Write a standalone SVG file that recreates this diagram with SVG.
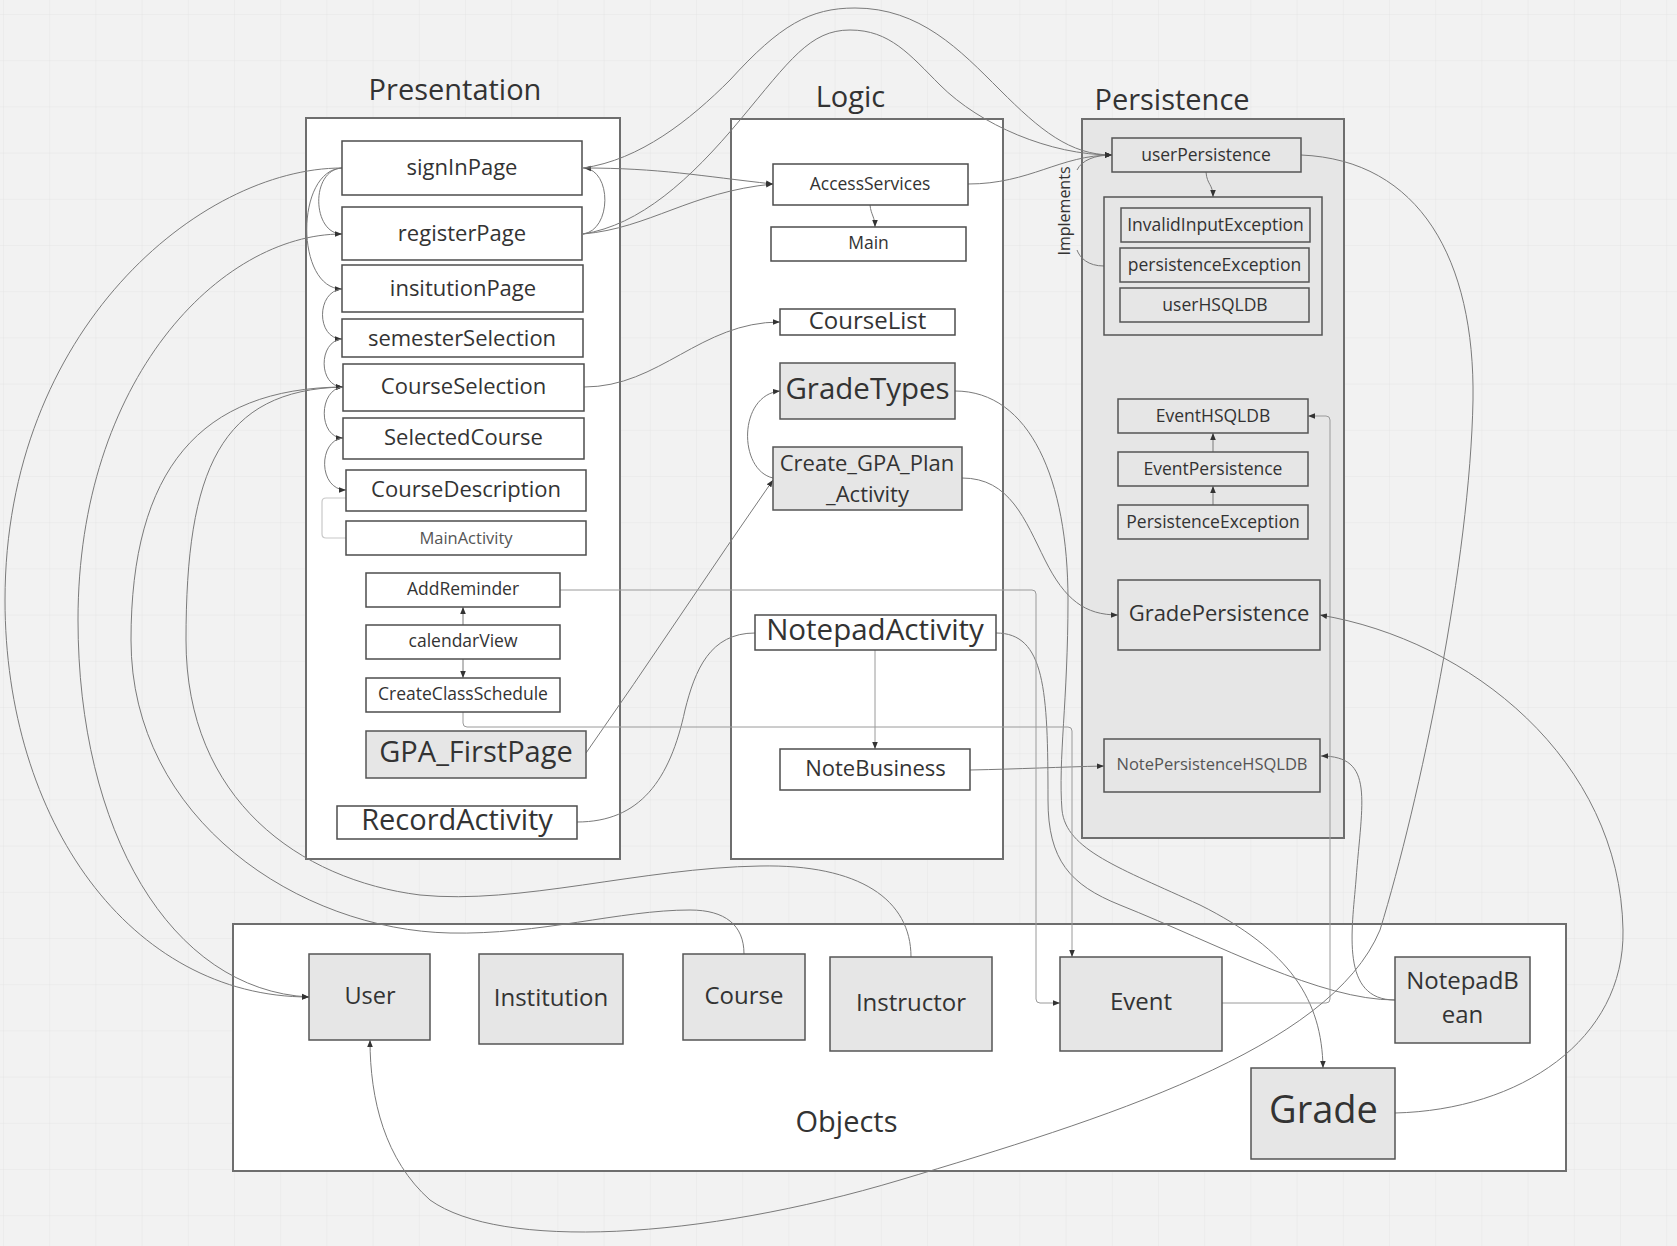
<svg xmlns="http://www.w3.org/2000/svg" width="1677" height="1246" viewBox="0 0 1677 1246">
<defs>
<pattern id="grid" x="3" y="14" width="46.2" height="46.2" patternUnits="userSpaceOnUse">
<path d="M46.2 0 L0 0 0 46.2" fill="none" stroke="#e5e5e5" stroke-width="1"/>
</pattern>
<marker id="ah" viewBox="0 0 10 10" refX="10" refY="5" markerWidth="7" markerHeight="7" markerUnits="userSpaceOnUse" orient="auto">
<path d="M0,1 L10,5 L0,9 z" fill="#333"/>
</marker>
<style>
.t{font-family:"Open Sans","Liberation Sans",sans-serif;fill:#333;text-anchor:middle}
.box{fill:#fff;stroke:#4d4d4d;stroke-width:1.5}
.gbox{fill:#e6e6e6;stroke:#555;stroke-width:1.5}
.cont{fill:#fff;stroke:#6e6e6e;stroke-width:2}
.gcont{fill:#e6e6e6;stroke:#6e6e6e;stroke-width:2}
.c{fill:none;stroke:#7a7a7a;stroke-width:1}
.a{marker-end:url(#ah)}
.lt{fill:none;stroke:#c8c8c8;stroke-width:1.2}
.lg{fill:none;stroke:#9a9a9a;stroke-width:1}
</style>
</defs>
<rect x="0" y="0" width="1677" height="1246" fill="#f2f2f2"/>
<rect x="0" y="0" width="1677" height="1246" fill="url(#grid)"/>

<g id="presentation">
<rect class="cont" x="306" y="118" width="314" height="741"/>
<text class="t" x="455" y="100" font-size="29">Presentation</text>
</g>
<g id="logic">
<rect class="cont" x="731" y="119" width="272" height="740"/>
<text class="t" x="850.5" y="106.5" font-size="29">Logic</text>
</g>
<g id="persistence">
<rect class="gcont" x="1082" y="119" width="262" height="719"/>
<text class="t" x="1172" y="110" font-size="29">Persistence</text>
</g>
<g id="objects">
<rect class="cont" x="233" y="924" width="1333" height="247"/>
<text class="t" x="846.5" y="1131.5" font-size="29">Objects</text>
</g>

<g id="connectors">
<path class="c a" d="M342,168 C200,168 5,330 5,600 C5,820 130,997 309,997"/>
<path class="c a" d="M342,234 C220,234 78,380 78,620 C78,830 170,990 309,997"/>
<path class="c a" d="M744,954 C744,925 725,910 690,910 C620,910 540,935 450,933 C300,930 131,820 131,640 C131,470 200,388 343,387"/>
<path class="c a" d="M911,957 C911,900 860,864 760,866 C640,868 520,905 420,895 C300,880 186,800 186,640 C186,470 220,390 343,387"/>
<path class="c a" d="M342,168 C310,170 312,234 342,234"/>
<path class="c a" d="M342,168 C295,170 295,289 342,289"/>
<path class="c a" d="M342,289 C316,291 316,339 342,339"/>
<path class="c a" d="M342,339 C318,341 318,387 343,387"/>
<path class="c a" d="M343,387 C318,389 318,438 343,438"/>
<path class="c a" d="M343,438 C318,440 318,490 346,490"/>
<path class="lt" d="M346,538 H326 Q322,538 322,534 V502 Q322,498 326,498 H346"/>
<path class="c a" d="M583,234 C612,230 612,170 584,168"/>
<path class="c a" d="M583,168 C660,168 700,176 773,184"/>
<path class="c a" d="M583,234 C650,228 690,192 773,184"/>
<path class="c a" d="M583,168 C640,160 690,120 730,80 C780,25 810,8 855,8 C920,8 960,50 1000,90 C1040,130 1070,155 1112,155"/>
<path class="c a" d="M583,234 C640,225 690,180 740,120 C790,60 810,30 850,30 C890,30 910,55 940,85 C980,125 1050,155 1112,155"/>
<path class="c a" d="M968,184 C1030,184 1060,155 1112,155"/>
<path class="c" d="M1104,266 C1088,266 1080,258 1077,250"/>
<path class="c a" d="M1077,170 C1082,160 1095,155 1112,155"/>
<path class="c a" d="M1206,172 C1207,185 1213,184 1213,197"/>
<path class="c a" d="M870,205 C871,215 875,217 875,227"/>
<path class="c a" d="M584,387 C660,387 700,322 780,322"/>
<path class="c a" d="M586,753 C650,662 710,570 773,480"/>
<path class="c a" d="M773,478 C738,470 738,395 780,391"/>
<path class="c a" d="M955,391 C1030,391 1068,480 1068,600 C1068,700 1058,760 1062,810 C1066,850 1120,868 1200,905 C1290,950 1322,1000 1323,1068"/>
<path class="c a" d="M962,478 C1010,478 1025,520 1045,560 C1065,600 1085,615 1118,615"/>
<path class="lg a" d="M875,650 V749"/>
<path class="c" d="M755,633 C710,633 695,670 685,710 C670,780 640,822 577,822"/>
<path class="c a" d="M970,770 C1020,769 1060,767 1104,766"/>
<path class="c" d="M996,633 C1045,633 1048,690 1048,800 C1048,860 1070,885 1120,905 C1220,945 1320,1000 1395,1000"/>
<path class="c a" d="M1395,1000 C1340,1000 1352,930 1356,880 C1362,800 1375,756 1321,756"/>
<path class="c a" d="M463,625 V607"/>
<path class="c a" d="M463,659 V678"/>
<path class="lg a" d="M560,590 H1032 Q1036,590 1036,594 V999 Q1036,1003 1040,1003 H1060"/>
<path class="lg a" d="M463,712 V723 Q463,727 467,727 H1068 Q1072,727 1072,731 V957"/>
<path class="lg a" d="M1222,1003 H1326 Q1330,1003 1330,999 V420 Q1330,416 1326,416 H1308"/>
<path class="c a" d="M1213,452 V433"/>
<path class="c a" d="M1213,505 V486"/>
<path class="c a" d="M1301,155 C1420,160 1475,260 1473,400 C1470,560 1420,800 1380,930 C1330,1050 1100,1120 900,1180 C700,1240 500,1250 430,1200 C385,1160 370,1100 370,1040"/>
<path class="c a" d="M1395,1113 C1520,1110 1625,1040 1623,930 C1620,760 1470,640 1320,615"/>
<text class="t" transform="translate(1070,211) rotate(-90)" font-size="16">Implements</text>
</g>

<g id="signInPage"><rect class="box" x="342" y="141" width="240" height="54"/><text class="t" x="462" y="174.5" font-size="22">signInPage</text></g>
<g id="registerPage"><rect class="box" x="342" y="207" width="240" height="53"/><text class="t" x="462" y="240.5" font-size="22">registerPage</text></g>
<g id="insitutionPage"><rect class="box" x="342" y="265" width="241" height="47"/><text class="t" x="463" y="295.5" font-size="22">insitutionPage</text></g>
<g id="semesterSelection"><rect class="box" x="342" y="319" width="241" height="38"/><text class="t" x="462" y="345.5" font-size="22">semesterSelection</text></g>
<g id="CourseSelection"><rect class="box" x="343" y="364" width="241" height="47"/><text class="t" x="463.5" y="393.5" font-size="22">CourseSelection</text></g>
<g id="SelectedCourse"><rect class="box" x="343" y="418" width="241" height="41"/><text class="t" x="463.5" y="444.5" font-size="22">SelectedCourse</text></g>
<g id="CourseDescription"><rect class="box" x="346" y="470" width="240" height="41"/><text class="t" x="466" y="497" font-size="22">CourseDescription</text></g>
<g id="MainActivity"><rect class="box" x="346" y="521" width="240" height="34"/><text class="t" x="466" y="543.5" font-size="16.5" style="fill:#555">MainActivity</text></g>
<g id="AddReminder"><rect class="box" x="366" y="573" width="194" height="34"/><text class="t" x="463" y="594.5" font-size="17.5">AddReminder</text></g>
<g id="calendarView"><rect class="box" x="366" y="625" width="194" height="34"/><text class="t" x="463" y="647" font-size="17.5">calendarView</text></g>
<g id="CreateClassSchedule"><rect class="box" x="366" y="678" width="194" height="34"/><text class="t" x="463" y="699.5" font-size="17.5">CreateClassSchedule</text></g>
<g id="GPA_FirstPage"><rect class="gbox" x="366" y="731" width="220" height="47"/><text class="t" x="476" y="762" font-size="29">GPA_FirstPage</text></g>
<g id="RecordActivity"><rect class="box" x="337" y="806" width="240" height="33"/><text class="t" x="457" y="829.5" font-size="29">RecordActivity</text></g>

<g id="AccessServices"><rect class="box" x="773" y="164" width="195" height="41"/><text class="t" x="870" y="189.5" font-size="17.5">AccessServices</text></g>
<g id="Main"><rect class="box" x="771" y="227" width="195" height="34"/><text class="t" x="868.5" y="249" font-size="17.5">Main</text></g>
<g id="CourseList"><rect class="box" x="780" y="309" width="175" height="26"/><text class="t" x="867.5" y="328.5" font-size="24">CourseList</text></g>
<g id="GradeTypes"><rect class="gbox" x="780" y="363" width="175" height="56"/><text class="t" x="867.5" y="398.5" font-size="29.5">GradeTypes</text></g>
<g id="Create_GPA_Plan_Activity"><rect class="gbox" x="773" y="447" width="189" height="63"/><text class="t" x="867" y="470.5" font-size="22">Create_GPA_Plan</text><text class="t" x="867.5" y="501.5" font-size="22">_Activity</text></g>
<g id="NotepadActivity"><rect class="box" x="755" y="615" width="241" height="35"/><text class="t" x="875" y="640" font-size="29.5">NotepadActivity</text></g>
<g id="NoteBusiness"><rect class="box" x="780" y="749" width="190" height="41"/><text class="t" x="875.5" y="776" font-size="22">NoteBusiness</text></g>

<g id="userPersistence"><rect class="gbox" x="1112" y="138" width="189" height="34"/><text class="t" x="1206" y="160.5" font-size="17.5">userPersistence</text></g>
<g id="userGroup"><rect class="gbox" x="1104" y="197" width="218" height="138"/></g>
<g id="InvalidInputException"><rect class="gbox" x="1121" y="208" width="189" height="34"/><text class="t" x="1215.5" y="230.5" font-size="17.5">InvalidInputException</text></g>
<g id="persistenceException"><rect class="gbox" x="1120" y="248" width="189" height="34"/><text class="t" x="1214.5" y="270.5" font-size="17.5">persistenceException</text></g>
<g id="userHSQLDB"><rect class="gbox" x="1120" y="288" width="189" height="34"/><text class="t" x="1215" y="310.5" font-size="17.5">userHSQLDB</text></g>
<g id="EventHSQLDB"><rect class="gbox" x="1118" y="399" width="190" height="34"/><text class="t" x="1213" y="422" font-size="17.5">EventHSQLDB</text></g>
<g id="EventPersistence"><rect class="gbox" x="1118" y="452" width="190" height="34"/><text class="t" x="1213" y="474.5" font-size="17.5">EventPersistence</text></g>
<g id="PersistenceException"><rect class="gbox" x="1118" y="505" width="190" height="34"/><text class="t" x="1213" y="527.5" font-size="17.5">PersistenceException</text></g>
<g id="GradePersistence"><rect class="gbox" x="1118" y="580" width="202" height="70"/><text class="t" x="1219" y="621" font-size="22">GradePersistence</text></g>
<g id="NotePersistenceHSQLDB"><rect class="gbox" x="1104" y="739" width="216" height="53"/><text class="t" x="1212" y="770" font-size="16.5" style="fill:#555">NotePersistenceHSQLDB</text></g>

<g id="User"><rect class="gbox" x="309" y="954" width="121" height="86"/><text class="t" x="370" y="1004" font-size="23.5">User</text></g>
<g id="Institution"><rect class="gbox" x="479" y="954" width="144" height="90"/><text class="t" x="551" y="1006" font-size="24">Institution</text></g>
<g id="Course"><rect class="gbox" x="683" y="954" width="122" height="86"/><text class="t" x="744" y="1004" font-size="24">Course</text></g>
<g id="Instructor"><rect class="gbox" x="830" y="957" width="162" height="94"/><text class="t" x="911" y="1011" font-size="24">Instructor</text></g>
<g id="Event"><rect class="gbox" x="1060" y="957" width="162" height="94"/><text class="t" x="1141" y="1010" font-size="24">Event</text></g>
<g id="NotepadBean"><rect class="gbox" x="1395" y="957" width="135" height="86"/><text class="t" x="1462.5" y="989" font-size="24">NotepadB</text><text class="t" x="1462.5" y="1023" font-size="24">ean</text></g>
<g id="Grade"><rect class="gbox" x="1251" y="1068" width="144" height="91"/><text class="t" x="1323.5" y="1123" font-size="38">Grade</text></g>
</svg>
